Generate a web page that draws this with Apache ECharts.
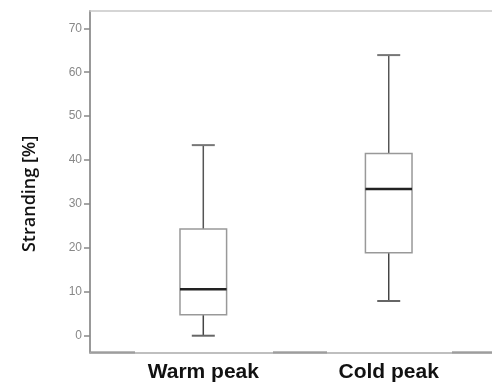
<!DOCTYPE html>
<html>
<head>
<meta charset="utf-8">
<script src="https://cdn.jsdelivr.net/npm/echarts@6/dist/echarts.min.js"></script>
<style>html,body{margin:0;padding:0;background:#fff}#c{width:492px;height:392px}</style>
</head>
<body>
<div id="c"></div>
<script>
const categories = ["Warm peak", "Cold peak"];
const lowerWhisker = [0, 7.9];
const q1Values = [4.8, 18.9];
const medians = [10.6, 33.4];
const q3Values = [24.3, 41.5];
const upperWhisker = [43.4, 63.9];
const yTicks = [0, 10, 20, 30, 40, 50, 60, 70];

const boxData = categories.map((c, i) => [i + 1, lowerWhisker[i], q1Values[i], medians[i], q3Values[i], upperWhisker[i]]);

const chart = echarts.init(document.getElementById('c'), null, {renderer: 'canvas'});
chart.setOption({
  animation: false,
  backgroundColor: '#fff',
  grid: {left: 90, top: 11, right: 0, bottom: 39.3},
  xAxis: [{
    type: 'value', min: 0.389, max: 2.557,
    splitLine: {show: false},
    axisLine: {show: true, onZero: false, lineStyle: {color: '#aaa', width: 1.5}},
    axisTick: {show: false},
    axisLabel: {
      customValues: [1, 2],
      formatter: v => categories[Math.round(v) - 1] || '',
      fontFamily: 'Liberation Sans', fontSize: 21, fontWeight: 'bold', color: '#111', margin: 9
    }
  }, {
    type: 'value', position: 'top', min: 0.389, max: 2.557,
    splitLine: {show: false},
    axisLine: {show: true, onZero: false, lineStyle: {color: '#c8c8c8', width: 1.5}},
    axisTick: {show: false}, axisLabel: {show: false}
  }],
  yAxis: {
    type: 'value', min: -3.87, max: 73.94,
    name: 'Stranding [%]', nameLocation: 'middle', nameGap: 51,
    nameTextStyle: {fontFamily: 'Open Sans', fontSize: 18, fontWeight: 600, color: '#111', padding: [0, 24, 0, 0]},
    splitLine: {show: false},
    axisLine: {show: true, onZero: false, lineStyle: {color: '#999', width: 2}},
    axisTick: {show: true, customValues: yTicks, length: 6, lineStyle: {color: '#888', width: 1.5}},
    axisLabel: {customValues: yTicks, fontFamily: 'Liberation Sans', fontSize: 12, color: '#888', margin: 8}
  },
  graphic: [
    {type: 'line', shape: {x1: 90, y1: 352.5, x2: 135, y2: 352.5}, style: {stroke: '#777', lineWidth: 2}},
    {type: 'line', shape: {x1: 273, y1: 352.5, x2: 327, y2: 352.5}, style: {stroke: '#777', lineWidth: 2}},
    {type: 'line', shape: {x1: 452, y1: 352.5, x2: 492, y2: 352.5}, style: {stroke: '#777', lineWidth: 2}}
  ],
  series: [{
    type: 'custom',
    data: boxData,
    renderItem: function (params, api) {
      const x = api.value(0);
      const pLo = api.coord([x, api.value(1)]);
      const pQ1 = api.coord([x, api.value(2)]);
      const pMed = api.coord([x, api.value(3)]);
      const pQ3 = api.coord([x, api.value(4)]);
      const pHi = api.coord([x, api.value(5)]);
      const cx = pMed[0];
      const hb = 23.3, hc = 11.5;
      return {
        type: 'group',
        children: [
          {type: 'line', shape: {x1: cx, y1: pQ3[1], x2: cx, y2: pHi[1]}, style: {stroke: '#555', lineWidth: 1.5}},
          {type: 'line', shape: {x1: cx, y1: pQ1[1], x2: cx, y2: pLo[1]}, style: {stroke: '#444', lineWidth: 1.5}},
          {type: 'line', shape: {x1: cx - hc, y1: pHi[1], x2: cx + hc, y2: pHi[1]}, style: {stroke: '#777', lineWidth: 2}},
          {type: 'line', shape: {x1: cx - hc, y1: pLo[1], x2: cx + hc, y2: pLo[1]}, style: {stroke: '#666', lineWidth: 2}},
          {type: 'rect', shape: {x: cx - hb, y: pQ3[1], width: 2 * hb, height: pQ1[1] - pQ3[1]}, style: {fill: '#fff', stroke: '#999', lineWidth: 1.5}},
          {type: 'line', shape: {x1: cx - hb, y1: pMed[1], x2: cx + hb, y2: pMed[1]}, style: {stroke: '#222', lineWidth: 2.5}}
        ]
      };
    }
  }]
});
</script>
</body>
</html>
